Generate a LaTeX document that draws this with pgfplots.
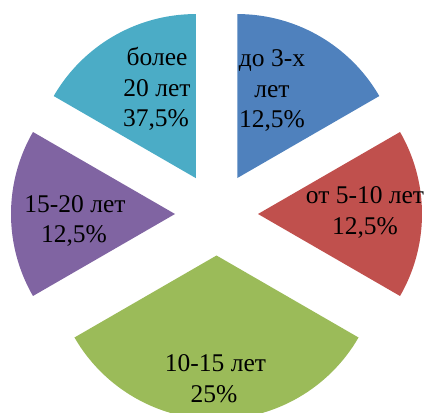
\documentclass[border=0pt]{standalone}
\usepackage{pgfplots}
\pgfplotsset{compat=1.18}
\usepackage{fontspec}
\setmainfont{Liberation Serif}
\newfontfamily\tnr{Liberation Serif}
\definecolor{cblue}{HTML}{4F81BD}
\definecolor{cred}{HTML}{C0504D}
\definecolor{cgreen}{HTML}{9BBB59}
\definecolor{cpurple}{HTML}{8064A2}
\definecolor{ccyan}{HTML}{4BACC6}
% slices drawn as shares 1:1:2:1:1 of the circle (60, 60, 120, 60, 60 degrees)
\def\R{164}
\def\cx{216.5}
\def\cy{198}
\def\ex{41.5}
\begin{document}
\begin{tikzpicture}
\begin{axis}[width=427pt,height=412pt,scale only axis,
  xmin=0,xmax=427,ymin=0,ymax=412,ticks=none,axis line style={draw=none},
  clip=true]
% blue: 30..90
\addplot[fill=cblue,draw=none,domain=30:90,samples=60,variable=\t]
  ({\cx+\ex*cos(60)+\R*cos(\t)},{\cy+\ex*sin(60)+\R*sin(\t)}) -- (axis cs:{\cx+\ex*cos(60)},{\cy+\ex*sin(60)}) -- cycle;
% red: -30..30
\addplot[fill=cred,draw=none,domain=-30:30,samples=60,variable=\t]
  ({\cx+\ex+\R*cos(\t)},{\cy+\R*sin(\t)}) -- (axis cs:{\cx+\ex},{\cy}) -- cycle;
% green: -150..-30
\addplot[fill=cgreen,draw=none,domain=-150:-30,samples=90,variable=\t]
  ({\cx+\R*cos(\t)},{\cy-\ex+\R*sin(\t)}) -- (axis cs:{\cx},{\cy-\ex}) -- cycle;
% purple: 150..210
\addplot[fill=cpurple,draw=none,domain=150:210,samples=60,variable=\t]
  ({\cx-\ex+\R*cos(\t)},{\cy+\R*sin(\t)}) -- (axis cs:{\cx-\ex},{\cy}) -- cycle;
% cyan: 90..150
\addplot[fill=ccyan,draw=none,domain=90:150,samples=60,variable=\t]
  ({\cx+\ex*cos(120)+\R*cos(\t)},{\cy+\ex*sin(120)+\R*sin(\t)}) -- (axis cs:{\cx+\ex*cos(120)},{\cy+\ex*sin(120)}) -- cycle;
\end{axis}
\begin{axis}[width=427pt,height=412pt,scale only axis,
  xmin=0,xmax=427,ymin=0,ymax=412,ticks=none,axis line style={draw=none},
  clip=false]
\tikzset{lbl/.style={anchor=base,inner sep=0pt,font=\tnr\fontsize{25.5}{31}\selectfont}}
\node[lbl] at (axis cs:272,345) {до 3-х};
\node[lbl] at (axis cs:272,314) {лет};
\node[lbl] at (axis cs:272,284) {12,5\%};
\node[lbl] at (axis cs:157,346) {более};
\node[lbl] at (axis cs:157,315) {20 лет};
\node[lbl] at (axis cs:156,285) {37,5\%};
\node[lbl] at (axis cs:365,208) {от 5-10 лет};
\node[lbl] at (axis cs:365,177) {12,5\%};
\node[lbl] at (axis cs:75,199) {15-20 лет};
\node[lbl] at (axis cs:74,169) {12,5\%};
\node[lbl] at (axis cs:215.5,41) {10-15 лет};
\node[lbl] at (axis cs:214,10) {25\%};
\end{axis}
\end{tikzpicture}
\end{document}
